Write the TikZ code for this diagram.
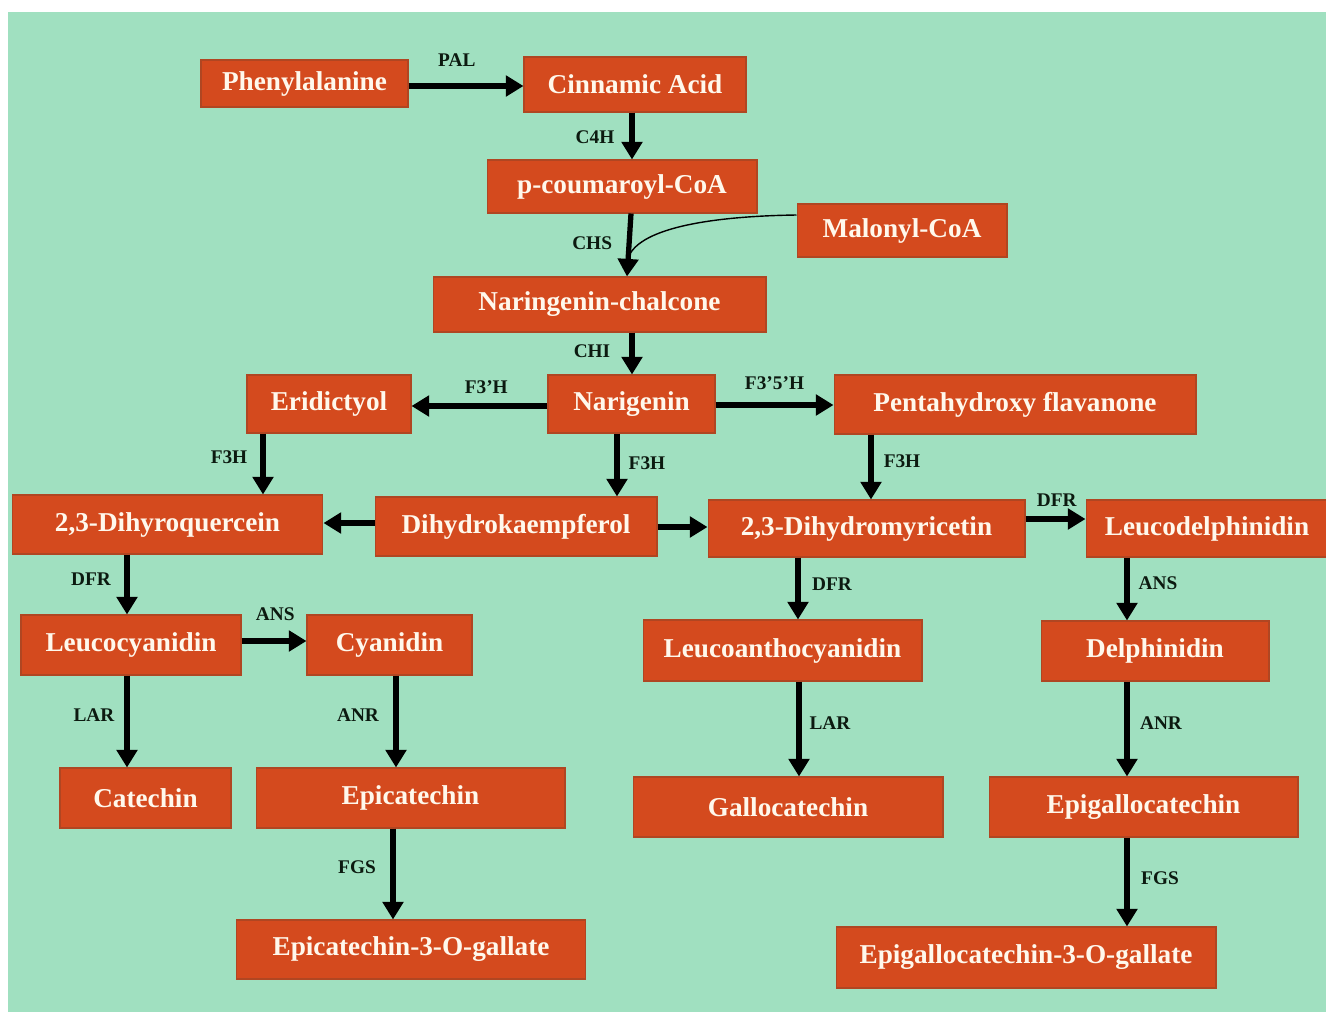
\documentclass[tikz,border=0pt]{standalone}
\usepackage{fontspec}
\setmainfont{Liberation Serif}
\usetikzlibrary{arrows.meta}
\definecolor{mint}{RGB}{160,224,192}
\definecolor{brick}{RGB}{212,74,30}
\definecolor{brickline}{RGB}{176,70,34}
\definecolor{cream}{RGB}{255,248,236}
\definecolor{ink}{RGB}{12,26,16}

\begin{document}
\begin{tikzpicture}[x=0.02cm,y=-0.02cm,
  box/.style={draw=brickline,fill=brick,line width=0.6pt,inner sep=0pt,
    text=cream,font=\bfseries\fontsize{15.5}{18}\selectfont},
  flow/.style={-{Triangle[width=11.5pt,length=10pt]},line width=3pt},
  lbl/.style={inner sep=0pt,text=ink,font=\bfseries\fontsize{11}{13}\selectfont}]

%Background
\fill[white] (0,0) rectangle (1326,1012);
\fill[mint] (8,12) rectangle (1326,1012);
\useasboundingbox (0,0) rectangle (1326,1012);

%%%%%%%%%%%%%%%%%Top chain%%%%%%%%%%%%%%
%Phenylalanine
\node[box,minimum width=4.14cm,minimum height=0.94cm] (phe) at (304.5,83.5) {Phenylalanine};

%Cinnamic Acid
\node[box,minimum width=4.44cm,minimum height=1.10cm] (cin) at (635,84.5) {Cinnamic Acid};

%p-coumaroyl-CoA
\node[box,minimum width=5.40cm,minimum height=1.06cm] (cou) at (622,186.5) {p-coumaroyl-CoA};

%Malonyl-CoA
\node[box,minimum width=4.20cm,minimum height=1.06cm] (mal) at (902,230.5) {Malonyl-CoA};

%Naringenin-chalcone
\node[box,minimum width=6.66cm,minimum height=1.10cm] (nch) at (599.5,304.5) {Naringenin-chalcone};

%%%%%%%%%%%%%%%%%Middle row%%%%%%%%%%%%%%
%Eridictyol
\node[box,minimum width=3.28cm,minimum height=1.16cm] (eri) at (329,404) {Eridictyol};

%Narigenin
\node[box,minimum width=3.34cm,minimum height=1.16cm] (nar) at (631.5,404) {Narigenin};

%Pentahydroxy flavanone
\node[box,minimum width=7.24cm,minimum height=1.18cm] (pen) at (1015,404.5) {Pentahydroxy flavanone};

%2,3-Dihyroquercein
\node[box,minimum width=6.22cm,minimum height=1.18cm] (dhq) at (167.5,524.5) {2,3-Dihyroquercein};

%Dihydrokaempferol
\node[box,minimum width=5.64cm,minimum height=1.18cm] (dhk) at (516,526.5) {Dihydrokaempferol};

%2,3-Dihydromyricetin
\node[box,minimum width=6.34cm,minimum height=1.14cm] (dhm) at (866.5,528.5) {2,3-Dihydromyricetin};

%Leucodelphinidin
\node[box,minimum width=4.84cm,minimum height=1.14cm] (lcd) at (1207,528.5) {Leucodelphinidin};

%%%%%%%%%%%%%%%%%Lower rows%%%%%%%%%%%%%%
%Leucocyanidin
\node[box,minimum width=4.40cm,minimum height=1.20cm] (lcy) at (131,645) {Leucocyanidin};

%Cyanidin
\node[box,minimum width=3.30cm,minimum height=1.20cm] (cya) at (389.5,645) {Cyanidin};

%Leucoanthocyanidin
\node[box,minimum width=5.58cm,minimum height=1.22cm] (lan) at (782.5,650.5) {Leucoanthocyanidin};

%Delphinidin
\node[box,minimum width=4.56cm,minimum height=1.20cm] (del) at (1155,651) {Delphinidin};

%Catechin
\node[box,minimum width=3.42cm,minimum height=1.20cm] (cat) at (145.5,798) {Catechin};

%Epicatechin
\node[box,minimum width=6.18cm,minimum height=1.20cm] (epi) at (410.5,798) {Epicatechin};

%Gallocatechin
\node[box,minimum width=6.20cm,minimum height=1.20cm] (gal) at (788,807) {Gallocatechin};

%Epigallocatechin
\node[box,minimum width=6.18cm,minimum height=1.20cm] (egc) at (1143.5,807) {Epigallocatechin};

%Epicatechin-3-O-gallate
\node[box,minimum width=7.00cm,minimum height=1.18cm] (ecg) at (411,949.5) {Epicatechin-3-O-gallate};

%Epigallocatechin-3-O-gallate
\node[box,minimum width=7.60cm,minimum height=1.22cm] (egg) at (1026,957.5) {Epigallocatechin-3-O-gallate};

%%%%%%%%%%%%%%%%%Arrows%%%%%%%%%%%%%%
\draw[flow] (phe.east |- 0,86) -- (cin.west |- 0,86) node[lbl,pos=0.42,yshift=0.52cm] (tpal) {PAL};
\draw[flow] (cin.south -| 632,0) -- (cou.north -| 632,0) node[lbl,pos=0.52,xshift=-0.74cm] (tc4h) {C4H};
\draw[flow] (cou.south -| 631,0) -- (nch.north -| 627,0) coordinate[pos=0.7] (join) node[lbl,pos=0.47,xshift=-0.74cm] (tchs) {CHS};
\draw[line width=0.8pt] (mal.west |- 0,215) .. controls (720,216) and (640,226) .. (join);
\draw[flow] (nch.south -| 632,0) -- (nar.north -| 632,0) node[lbl,pos=0.44,xshift=-0.80cm] (tchi) {CHI};

\draw[flow] (nar.west |- 0,406) -- (eri.east |- 0,406) node[lbl,pos=0.45,yshift=0.38cm] (tf3h) {F3'H};
\draw[flow] (nar.east |- 0,405) -- (pen.west |- 0,405) node[lbl,pos=0.5,yshift=0.44cm] (tf35h) {F3'5'H};
\draw[flow] (eri.south -| 263,0) -- (dhq.north -| 263,0) node[lbl,pos=0.39,xshift=-0.68cm] (tf3ha) {F3H};
\draw[flow] (nar.south -| 617,0) -- (dhk.north -| 617,0) node[lbl,pos=0.47,xshift=0.60cm] (tf3hb) {F3H};
\draw[flow] (pen.south -| 871,0) -- (dhm.north -| 871,0) node[lbl,pos=0.41,xshift=0.62cm] (tf3hc) {F3H};

\draw[flow] (dhk.west |- 0,523) -- (dhq.east |- 0,523);
\draw[flow] (dhk.east |- 0,527) -- (dhm.west |- 0,527);
\draw[flow] (dhm.east |- 0,519) -- (lcd.west |- 0,519) node[lbl,pos=0.52,yshift=0.38cm] (tdfra) {DFR};

\draw[flow] (dhq.south -| 127,0) -- (lcy.north -| 127,0) node[lbl,pos=0.41,xshift=-0.72cm] (tdfrb) {DFR};
\draw[flow] (lcy.east |- 0,641) -- (cya.west |- 0,641) node[lbl,pos=0.52,yshift=0.54cm] (tansa) {ANS};
\draw[flow] (lcy.south -| 127,0) -- (cat.north -| 127,0) node[lbl,pos=0.43,xshift=-0.66cm] (tlara) {LAR};
\draw[flow] (cya.south -| 396,0) -- (epi.north -| 396,0) node[lbl,pos=0.43,xshift=-0.76cm] (tanra) {ANR};
\draw[flow] (epi.south -| 393,0) -- (ecg.north -| 393,0) node[lbl,pos=0.42,xshift=-0.72cm] (tfgsa) {FGS};

\draw[flow] (dhm.south -| 798,0) -- (lan.north -| 798,0) node[lbl,pos=0.43,xshift=0.68cm] (tdfrc) {DFR};
\draw[flow] (lan.south -| 799,0) -- (gal.north -| 799,0) node[lbl,pos=0.44,xshift=0.62cm] (tlarb) {LAR};
\draw[flow] (lcd.south -| 1127,0) -- (del.north -| 1127,0) node[lbl,pos=0.41,xshift=0.62cm] (tansb) {ANS};
\draw[flow] (del.south -| 1127,0) -- (egc.north -| 1127,0) node[lbl,pos=0.44,xshift=0.68cm] (tanrb) {ANR};
\draw[flow] (egc.south -| 1127,0) -- (egg.north -| 1127,0) node[lbl,pos=0.46,xshift=0.66cm] (tfgsb) {FGS};

\end{tikzpicture}
\end{document}
